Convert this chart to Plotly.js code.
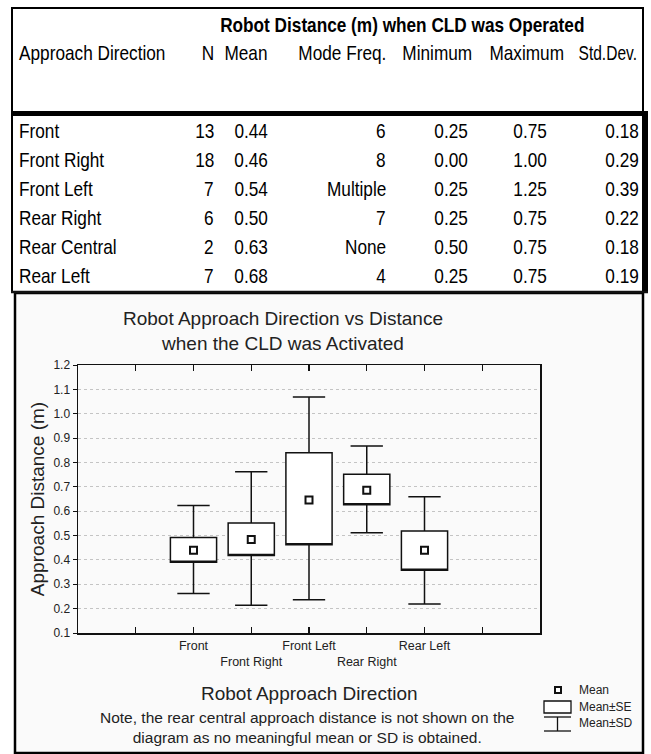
<!DOCTYPE html>
<html><head><meta charset="utf-8">
<script src="https://cdn.plot.ly/plotly-3.0.1.min.js"></script>
<style>html,body{margin:0;padding:0;background:#fff;}#chart{width:651px;height:754px;}</style>
</head><body><div id="chart"></div>
<script>
// ---------- table data ----------
const tableTitle = 'Robot Distance (m) when CLD was Operated';
const tableHeaders = ['Approach Direction','N','Mean','Mode Freq.','Minimum','Maximum','Std.Dev.'];
const directions = ['Front','Front Right','Front Left','Rear Right','Rear Central','Rear Left'];
const nValues = ['13','18','7','6','2','7'];
const meanValues = ['0.44','0.46','0.54','0.50','0.63','0.68'];
const modeFreq = ['6','8','Multiple','7','None','4'];
const minValues = ['0.25','0.00','0.25','0.25','0.50','0.25'];
const maxValues = ['0.75','1.00','1.25','0.75','0.75','0.75'];
const sdValues = ['0.18','0.29','0.39','0.22','0.18','0.19'];

// ---------- chart data ----------
const chartTitle = 'Robot Approach Direction vs Distance<br>when the CLD was Activated';
const categories = ['Front','Front Right','Front Left','Rear Right','Rear Left'];
const meanVal = [0.44, 0.484, 0.646, 0.686, 0.44];
const seLow   = [0.390, 0.418, 0.462, 0.626, 0.358];
const seHigh  = [0.492, 0.551, 0.840, 0.752, 0.519];
const sdLow   = [0.262, 0.214, 0.236, 0.511, 0.219];
const sdHigh  = [0.623, 0.762, 1.069, 0.868, 0.659];
const xTitle = 'Robot Approach Direction';
const yTitle = 'Approach Distance (m)';
const noteText = 'Note, the rear central approach distance is not shown on the<br>diagram as no meaningful mean or SD is obtained.';
const legendLabels = ['Mean','Mean±SE','Mean±SD'];

// ---------- helpers ----------
const W = 651, H = 754;
const px = x => x / W, py = y => 1 - y / H;
const TF = '"Liberation Sans",Arial,sans-serif';
const CF = '"Liberation Sans",Arial,sans-serif';
const ann = [], shp = [], squeeze = [];
function txt(t, x, y, o, sq, k) {
  ann.push(Object.assign({text: t, x: px(x), y: py(y), xref: 'paper', yref: 'paper',
    showarrow: false, xanchor: 'left', yanchor: 'middle',
    font: {family: TF, size: 21, color: '#000'}}, o || {}));
  squeeze.push(sq ? {mode: sq, k: k || 0.82} : null);
}
function rect(x0, y0, x1, y1, o) {
  shp.push(Object.assign({type: 'rect', xref: 'paper', yref: 'paper',
    x0: px(x0), x1: px(x1), y0: py(y0), y1: py(y1)}, o || {}));
}
function line(x0, y0, x1, y1, w) {
  shp.push({type: 'line', xref: 'paper', yref: 'paper', x0: px(x0), x1: px(x1), y0: py(y0), y1: py(y1),
    line: {color: '#111', width: w || 1.4}});
}

// ---------- frames ----------
rect(15, 293, 643, 753, {line: {color: '#000', width: 2.5}, fillcolor: '#fafafa', layer: 'below'});
rect(12, 8, 643, 292, {line: {color: '#000', width: 2}, fillcolor: '#fff', layer: 'below'});
rect(11, 111, 648, 116, {line: {width: 0}, fillcolor: '#000', layer: 'above'});
rect(642, 111, 648, 292, {line: {width: 0}, fillcolor: '#000', layer: 'above'});
line(11, 292, 648, 292, 2.5);

// ---------- table text ----------
const headerRight = [17, 216, 270, 388, 474, 566, 639];
const headerSqueeze = [0.82, 0.82, 0.82, 0.82, 0.82, 0.82, 0.74];
const dataRight   = [17, 216, 270, 388, 470, 549, 641];
txt('<b>' + tableTitle + '</b>', 402, 24, {xanchor: 'center'}, 'center');
tableHeaders.forEach((h, j) => txt(h, headerRight[j], 52, {xanchor: j === 0 ? 'left' : 'right'},
  j === 0 ? 'left' : 'right', headerSqueeze[j]));
const cols = [directions, nValues, meanValues, modeFreq, minValues, maxValues, sdValues];
directions.forEach((d, i) => {
  const y = 131 + i * 28.8;
  cols.forEach((c, j) => txt(c[i], dataRight[j], y, {xanchor: j === 0 ? 'left' : 'right'}, j === 0 ? 'left' : 'right'));
});

// ---------- chart annotations ----------
txt(chartTitle, 283, 331, {xanchor: 'center', font: {family: CF, size: 19, color: '#222'}});
txt(xTitle, 309, 693, {xanchor: 'center', font: {family: CF, size: 19, color: '#222'}});
txt(noteText, 307, 727, {xanchor: 'center', font: {family: CF, size: 15.5, color: '#222'}});

// legend
rect(555, 687, 561, 693, {line: {color: '#111', width: 2}, fillcolor: '#fff'});
rect(544, 701, 571, 713, {line: {color: '#111', width: 1.3}, fillcolor: '#fff'});
line(544, 717, 571, 717, 1.3); line(557.5, 717, 557.5, 731, 1.3); line(544, 731, 571, 731, 1.3);
[690, 707, 723].forEach((y, k) => txt(legendLabels[k], 577, y, {font: {family: CF, size: 12, color: '#222'}}));

// ---------- chart traces ----------
const xPos = categories.map((c, i) => i + 2);
const tickVals = [1, 2, 3, 4, 5, 6, 7];
const tickText = ['', ...categories.map((c, i) => (i % 2 ? '<br>' : '') + c), ''];

const boxTrace = {
  type: 'box', x: xPos, q1: seLow, median: seLow, q3: seHigh,
  lowerfence: sdLow, upperfence: sdHigh,
  width: 0.8, whiskerwidth: 0.7, boxpoints: false,
  fillcolor: '#fff', line: {color: '#111', width: 1.5}, hoverinfo: 'skip', showlegend: false
};
const meanTrace = {
  type: 'scatter', mode: 'markers', x: xPos, y: meanVal,
  marker: {symbol: 'square', size: 7, color: '#fff', line: {color: '#111', width: 2}},
  hoverinfo: 'skip', showlegend: false
};

const layout = {
  width: W, height: H, margin: {l: 0, r: 0, t: 0, b: 0},
  paper_bgcolor: '#fff', plot_bgcolor: '#fff', showlegend: false,
  xaxis: {domain: [px(78), px(540)], range: [0, 8], tickmode: 'array', tickvals: tickVals, ticktext: tickText,
    tickangle: 0, ticks: 'inside', ticklen: 6, tickcolor: '#111', tickwidth: 1.3, showline: true, linecolor: '#111', linewidth: 1.5,
    mirror: 'ticks', showgrid: false, zeroline: false, tickfont: {family: CF, size: 12.5, color: '#222'}, fixedrange: true},
  yaxis: {domain: [py(633), py(365)], range: [0.1, 1.2], tick0: 0.1, dtick: 0.1, tickformat: '.1f',
    ticks: 'outside', ticklen: 4, tickcolor: '#111', showline: true, linecolor: '#111', linewidth: 1.5, mirror: true,
    showgrid: true, gridcolor: '#c4c4c4', griddash: 'dot', gridwidth: 1, zeroline: false,
    tickfont: {family: CF, size: 12, color: '#222'},
    title: {text: yTitle, font: {family: CF, size: 19, color: '#222'}, standoff: 4}, fixedrange: true},
  annotations: ann, shapes: shp
};
Plotly.newPlot('chart', [boxTrace, meanTrace], layout, {staticPlot: true, displayModeBar: false}).then(gd => {
  gd.querySelectorAll('g.annotation').forEach(g => {
    const i = +g.getAttribute('data-index');
    const s = squeeze[i];
    if (!s) return;
    const t = g.querySelector('text.annotation-text');
    if (!t) return;
    const b = t.getBBox();
    const a = s.mode === 'left' ? b.x : s.mode === 'right' ? b.x + b.width : b.x + b.width / 2;
    const prev = t.getAttribute('transform') || '';
    t.setAttribute('transform', prev + ' translate(' + a + ',0) scale(' + s.k + ',1) translate(' + (-a) + ',0)');
  });
});
</script></body></html>
